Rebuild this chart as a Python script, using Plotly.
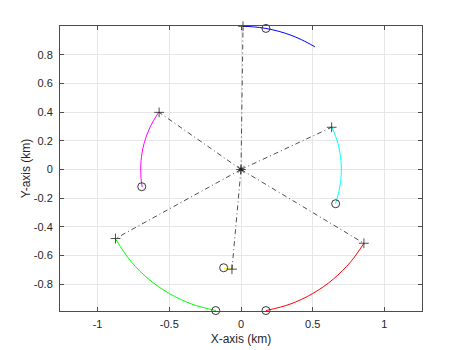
import plotly.graph_objects as go

# Trajectory arcs, x and y in km
blue_x = [0.014, 0.087, 0.174, 0.259, 0.342, 0.423, 0.515]
blue_y = [1.000, 0.996, 0.985, 0.966, 0.940, 0.906, 0.857]
magenta_x = [-0.573, -0.634, -0.676, -0.697, -0.697, -0.689]
magenta_y = [0.401, 0.296, 0.181, 0.061, -0.061, -0.122]
cyan_x = [0.634, 0.676, 0.697, 0.697, 0.676, 0.658]
cyan_y = [0.296, 0.181, 0.061, -0.061, -0.181, -0.239]
red_x = [0.174, 0.342, 0.500, 0.643, 0.766, 0.857]
red_y = [-0.985, -0.940, -0.866, -0.766, -0.643, -0.515]
green_x = [-0.875, -0.766, -0.643, -0.500, -0.342, -0.174]
green_y = [-0.485, -0.643, -0.766, -0.866, -0.940, -0.985]
yellow_x = [-0.063, -0.090, -0.118]
yellow_y = [-0.697, -0.693, -0.690]

# Start points ('+') and circle markers ('o')
plus_x = [0.014, -0.571, 0.632, 0.857, -0.875, -0.063]
plus_y = [1.000, 0.399, 0.295, -0.515, -0.482, -0.696]
circ_x = [0.174, -0.692, 0.660, 0.174, -0.176, -0.121]
circ_y = [0.985, -0.120, -0.239, -0.985, -0.985, -0.686]
origin_x = [0.0]
origin_y = [0.0]

x_ticks = [-1, -0.5, 0, 0.5, 1]
x_tick_text = ["-1", "-0.5", "0", "0.5", "1"]
y_ticks = [-0.8, -0.6, -0.4, -0.2, 0, 0.2, 0.4, 0.6, 0.8]
y_tick_text = ["-0.8", "-0.6", "-0.4", "-0.2", "0", "0.2", "0.4", "0.6", "0.8"]

INK = "#222222"
FONT = "Liberation Sans, Arial, sans-serif"

fig = go.Figure()

# dash-dot spokes from origin to each start point
for px, py in zip(plus_x, plus_y):
    fig.add_trace(go.Scatter(x=[origin_x[0], px], y=[origin_y[0], py], mode="lines",
                             line=dict(color=INK, width=0.8, dash="5px,3px,1px,3px"),
                             hoverinfo="skip", showlegend=False, cliponaxis=False))

arcs = [(blue_x, blue_y, "#0000ff"), (magenta_x, magenta_y, "#ff00ff"),
        (cyan_x, cyan_y, "#00ffff"), (red_x, red_y, "#ff0000"),
        (green_x, green_y, "#00ff00"), (yellow_x, yellow_y, "#ffff00")]
for ax, ay, c in arcs:
    fig.add_trace(go.Scatter(x=ax, y=ay, mode="lines", line=dict(color=c, width=1, shape="spline"),
                             showlegend=False, cliponaxis=False))

fig.add_trace(go.Scatter(x=plus_x, y=plus_y, mode="markers",
                         marker=dict(symbol="cross-thin-open", size=7, color=INK, line=dict(color=INK, width=0.8)),
                         showlegend=False, cliponaxis=False))
fig.add_trace(go.Scatter(x=circ_x, y=circ_y, mode="markers",
                         marker=dict(symbol="circle-open", size=8, color=INK, line=dict(color=INK, width=0.9)),
                         showlegend=False, cliponaxis=False))
fig.add_trace(go.Scatter(x=origin_x, y=origin_y, mode="markers",
                         marker=dict(symbol="asterisk-open", size=8, color=INK, line=dict(color=INK, width=0.8)),
                         showlegend=False, cliponaxis=False))
fig.add_trace(go.Scatter(x=origin_x, y=origin_y, mode="markers",
                         marker=dict(symbol="triangle-up", size=5, color=INK, line=dict(width=0)),
                         showlegend=False, cliponaxis=False))

axis_common = dict(showline=True, linecolor="#4d4d4d", linewidth=1, mirror="allticks",
                   ticks="inside", ticklen=4, tickcolor="#4d4d4d", tickwidth=1,
                   showgrid=True, gridcolor="#e6e6e6", gridwidth=1, zeroline=False,
                   tickfont=dict(family=FONT, size=11, color="#262626"))

fig.update_xaxes(range=[-1.262, 1.262], tickvals=x_ticks, ticktext=x_tick_text,
                 title=dict(text="X-axis (km)", standoff=5,
                            font=dict(family=FONT, size=12, color="#262626")),
                 ticklabelstandoff=3, **axis_common)
fig.update_yaxes(range=[-0.988, 1.002], tickvals=y_ticks, ticktext=y_tick_text,
                 title=dict(text="Y-axis (km)", standoff=0,
                            font=dict(family=FONT, size=12, color="#262626")),
                 ticklabelstandoff=4, **axis_common)

fig.update_layout(width=458, height=342, margin=dict(l=52, r=44, t=18, b=39, autoexpand=False),
                  paper_bgcolor="white", plot_bgcolor="white", showlegend=False)

fig.write_html("out.html")
